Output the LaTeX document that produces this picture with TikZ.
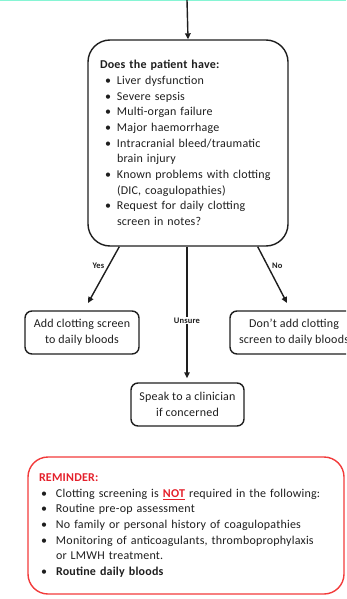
\documentclass[tikz,border=0pt]{standalone}
\usepackage{fontspec}
\setmainfont{Carlito}[LetterSpace=1.8]
\usetikzlibrary{arrows.meta,positioning,calc}
\definecolor{ink}{HTML}{1E1E1E}
\definecolor{alert}{HTML}{F23A3A}
\definecolor{alerttext}{HTML}{E4202B}
\definecolor{topline}{HTML}{86F5D4}
\newcommand{\qbul}{\hspace*{5pt}\makebox[12pt][l]{\textbullet}}
\newcommand{\qcont}{\hspace*{17pt}}
\newcommand{\rbul}{\hspace*{2pt}\makebox[15pt][l]{\textbullet}}
\newcommand{\rcont}{\hspace*{17pt}}
\tikzset{
  arr/.style={draw=ink, line width=1.4pt, -{Triangle[length=6pt,width=5.5pt]}},
  qbox/.style={draw=ink, line width=1.4pt, rounded corners=22pt, inner xsep=12pt, inner ysep=0pt,
    align=left, text=ink, font={\fontsize{12}{15.7}\selectfont}},
  endbox/.style={draw=ink, line width=1.4pt, rounded corners=7pt, inner sep=0pt,
    minimum height=43pt, align=center, text=ink, font={\fontsize{12}{16}\selectfont}},
  rbox/.style={draw=alert, line width=1.4pt, rounded corners=20pt, inner xsep=11pt, inner ysep=0pt,
    align=left, text=ink, font={\fontsize{12}{15.6}\selectfont}},
  ans/.style={font=\fontsize{8.5}{9}\selectfont\bfseries, text=ink, inner sep=1pt},
}

\begin{document}
\begin{tikzpicture}[x=1pt,y=-1pt]
  \useasboundingbox (0,0) rectangle (346,599);
  \clip (0,0) rectangle (346,599);
  \fill[topline] (0,0) rectangle (346,1.5);
  \coordinate (top) at (187,0);
  % question box
  \node[qbox, minimum width=200pt, minimum height=206pt, text width=176pt] (q) at (188,143) {%
    \textbf{Does the patient have:}\\
    \qbul Liver dysfunction\\
    \qbul Severe sepsis\\
    \qbul Multi-organ failure\\
    \qbul Major haemorrhage\\
    \qbul Intracranial bleed/traumatic\\
    \qcont brain injury\\
    \qbul Known problems with clotting\\
    \qcont (DIC, coagulopathies)\\
    \qbul Request for daily clotting\\
    \qcont screen in notes?};
  \draw[arr] (top) -- (q.north);
  % outcomes
  \node[endbox, minimum width=114pt] (yes) at (82,332.5) {Add clotting screen\\to daily bloods};
  \node[endbox, minimum width=128pt] (no) at (294,332.5) {Don’t add clotting\\screen to daily bloods};
  \node[endbox, minimum width=113pt] (ask) at (187.5,404.5) {Speak to a clinician\\if concerned};
  \coordinate (yesend) at (88,303);
  \coordinate (noend) at (287,303);
  \draw[arr] ([xshift=32pt]q.south west) -- node[ans, pos=0.33, left=3pt] {Yes} (yesend);
  \draw[arr] ([xshift=-31pt]q.south east) -- node[ans, pos=0.33, right=3pt] {No} (noend);
  \draw[arr] ([xshift=-1pt]q.south) -- node[ans, pos=0.56, fill=white] {Unsure} ([xshift=-0.5pt,yshift=4pt]ask.north);
  % reminder
  \node[rbox, minimum width=316pt, minimum height=137pt, text width=294pt] (rem) at (186,525.5) {%
    \textcolor{alerttext}{\textbf{REMINDER:}}\\
    \rbul Clotting screening is \textcolor{alerttext}{\textbf{\underline{NOT}}} required in the following:\\
    \rbul Routine pre-op assessment\\
    \rbul No family or personal history of coagulopathies\\
    \rbul Monitoring of anticoagulants, thromboprophylaxis\\
    \rcont or LMWH treatment.\\
    \rbul \textbf{Routine daily bloods}};
\end{tikzpicture}
\end{document}
